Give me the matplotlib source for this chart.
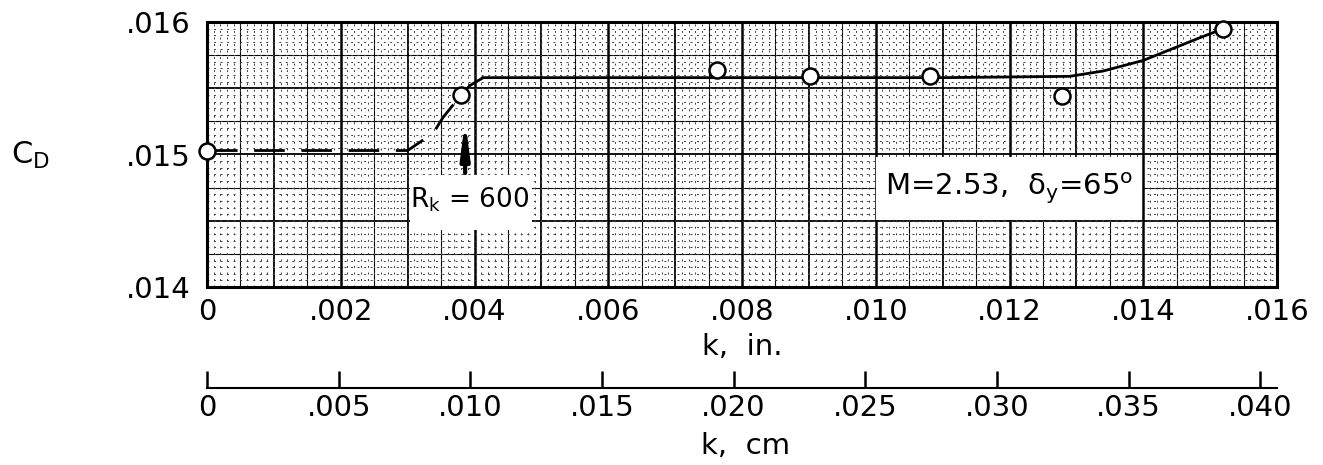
import numpy as np
from matplotlib import pyplot as plt
from matplotlib.ticker import MultipleLocator, FuncFormatter
from matplotlib.patches import Rectangle

plt.rcParams['font.family'] = ['DejaVu Sans']
plt.rcParams['lines.scale_dashes'] = False

# measured points, k in inches
k_in = [0.0, 0.0038, 0.00762, 0.00901, 0.01081, 0.01278, 0.01519]
cd = [0.01503, 0.01545, 0.01564, 0.01559, 0.01559, 0.01544, 0.01595]

# faired curve, dashed part (low k) and solid part
fair_dash_k = [0.0, 0.0030, 0.00338, 0.00353, 0.0038, 0.00393, 0.00413]
fair_dash_cd = [0.01503, 0.01503, 0.01516, 0.01528, 0.01545, 0.01552, 0.01558]
fair_solid_k = [0.00413, 0.0050, 0.0070, 0.0090, 0.0110, 0.0129, 0.0134, 0.0140, 0.01484, 0.0152]
fair_solid_cd = [0.01558, 0.01558, 0.01558, 0.01558, 0.01558, 0.01559, 0.01563, 0.01571, 0.01588, 0.01595]

in_ticks = [0, .002, .004, .006, .008, .010, .012, .014, .016]
cm_ticks = [0, .005, .010, .015, .020, .025, .030, .035, .040]
cd_ticks = [.014, .015, .016]

rk_k = 0.00386  # arrow location for R_k = 600


def fmt(v, pos=None):
    if abs(v) < 1e-9:
        return '0'
    return ('%.3f' % v).lstrip('0')


fig = plt.figure(figsize=(13.23, 4.65), dpi=100)
ax = fig.add_axes([207 / 1323, 1 - 287 / 465, 1070 / 1323, 265 / 465])
ax.set_xlim(0, 0.016)
ax.set_ylim(0.014, 0.016)

# graph paper: dotted fine grid plus heavier ruled lines
ax.xaxis.set_minor_locator(MultipleLocator(0.0001))
ax.yaxis.set_minor_locator(MultipleLocator(0.00005))
ax.grid(which='minor', color='0.25', lw=0.7, ls=(0, (1.4, 3.3)), zorder=0)
for i, v in enumerate(np.arange(0, 0.01601, 0.0005)):
    lw = 1.8 if i % 4 == 0 else (1.3 if i % 2 == 0 else 0.8)
    ax.axvline(v, color='k', lw=lw, zorder=1)
for i, v in enumerate(np.arange(0.014, 0.01601, 0.00025)):
    lw = 1.3 if i % 2 == 0 else 0.8
    ax.axhline(v, color='k', lw=lw, zorder=1)

ax.set_xticks(in_ticks)
ax.set_yticks(cd_ticks)
ax.xaxis.set_major_formatter(FuncFormatter(fmt))
ax.yaxis.set_major_formatter(FuncFormatter(fmt))
ax.tick_params(which='both', length=0)
ax.tick_params(axis='x', labelsize=21, pad=8)
ax.tick_params(axis='y', labelsize=21, pad=12)
for s in ax.spines.values():
    s.set_linewidth(2.2)
    s.set_zorder(5)

# text boxes
ax.add_patch(Rectangle((0.19, 0.215), 0.114, 0.208, transform=ax.transAxes,
                       facecolor='white', edgecolor='none', zorder=3))
ax.add_patch(Rectangle((0.625, 0.253), 0.249, 0.237, transform=ax.transAxes,
                       facecolor='white', edgecolor='none', zorder=3))
ax.text(0.246, 0.33, r'$\mathregular{R_k}$ = 600', transform=ax.transAxes,
        ha='center', va='center', fontsize=19, zorder=4)
ax.text(0.75, 0.37, r'M=2.53,  $\mathregular{\delta_y}$=65$^{\mathregular{o}}$',
        transform=ax.transAxes, ha='center', va='center', fontsize=21, zorder=4)

# curves and points
ax.plot(fair_dash_k, fair_dash_cd, color='k', lw=2, dashes=(22, 12), zorder=6)
ax.plot(fair_solid_k, fair_solid_cd, color='k', lw=2, zorder=6)
ax.plot(k_in, cd, 'o', ms=11.5, mfc='white', mec='k', mew=1.8, zorder=7, clip_on=False)

ax.annotate('', xy=(rk_k, 0.01526), xytext=(rk_k, 0.01486),
            arrowprops=dict(arrowstyle='-|>,head_length=1.0,head_width=0.13',
                            color='k', lw=3, mutation_scale=20,
                            shrinkA=0, shrinkB=0), zorder=6)

# second scale in cm
sec = ax.secondary_xaxis(-0.381, functions=(lambda x: x * 2.54, lambda x: x / 2.54))
sec.set_xticks(cm_ticks)
sec.xaxis.set_major_formatter(FuncFormatter(fmt))
sec.tick_params(direction='in', length=12, width=1.8, labelsize=21, pad=4)
sec.spines['bottom'].set_linewidth(1.5)

fig.text(742 / 1323, 1 - 347 / 465, 'k,  in.', ha='center', va='center', fontsize=21)
fig.text(746 / 1323, 1 - 446 / 465, 'k,  cm', ha='center', va='center', fontsize=21)
fig.text(30 / 1323, 1 - 155 / 465, r'C$_{\mathregular{D}}$', ha='center', va='center', fontsize=22)

fig.savefig('out.png', dpi=100)
